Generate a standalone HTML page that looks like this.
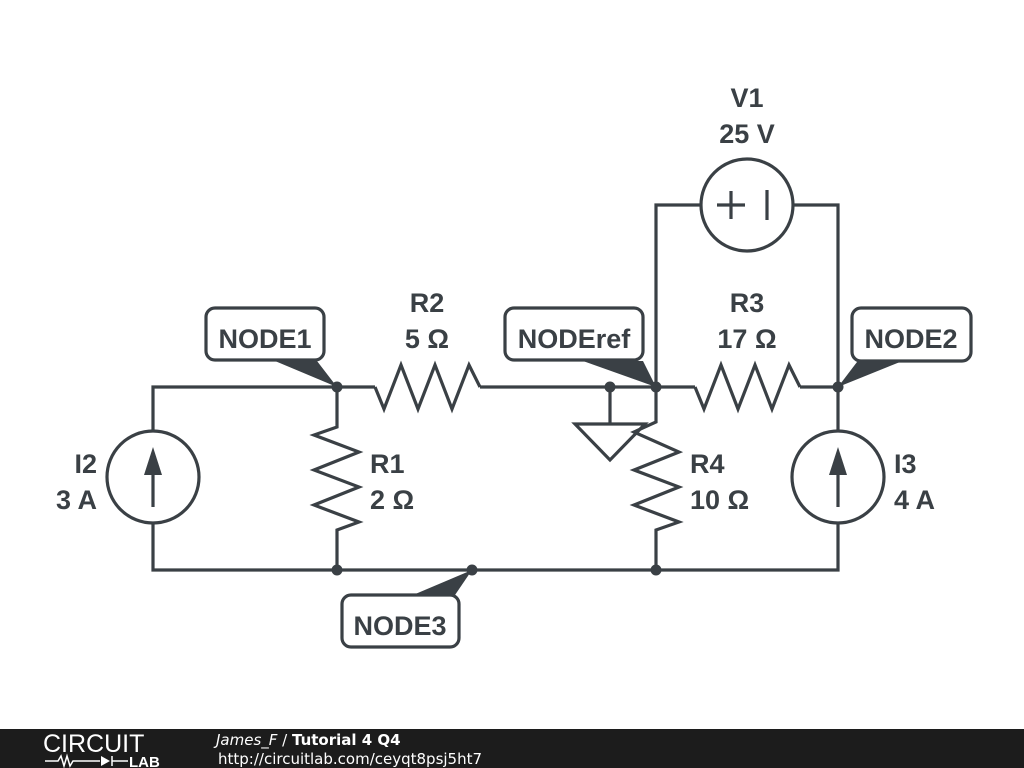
<!DOCTYPE html>
<html><head><meta charset="utf-8"><style>
html,body{margin:0;padding:0;background:#fff;width:1024px;height:768px;overflow:hidden}
svg{display:block}
text{font-family:"Liberation Sans",Arial,sans-serif;font-weight:bold;fill:#3a4045;font-size:27px}
.ft{font-family:"DejaVu Sans",sans-serif}
</style></head><body>
<svg width="1024" height="768" viewBox="0 0 1024 768">
<g stroke="#3a4045" stroke-width="3.2" fill="none" stroke-linejoin="miter">
<polyline points="153,431 153,387 375,387"/>
<polyline points="153,523 153,570 838,570 838,523"/>
<line x1="480" y1="387" x2="695" y2="387"/>
<line x1="800" y1="387" x2="838" y2="387"/>
<line x1="838" y1="387" x2="838" y2="431"/>
<polyline points="375,387 384,409 401,365 418,409 435,365 452,409 469,365 480,387"/>
<polyline points="695,387 704,409 721,365 738,409 755,365 772,409 789,365 800,387"/>
<polyline points="337,387 337,427 314,435 359,452 314,470 359,487 314,505 359,522 337,530 337,570"/>
<polyline points="656,387 656,422 634,432 679,452 634,470 679,487 634,505 679,522 656,530 656,570"/>
<polyline points="656,387 656,205 701,205"/>
<polyline points="793,205 838,205 838,387"/>
<circle cx="747" cy="205" r="46"/>
<line x1="717" y1="205" x2="745" y2="205"/>
<line x1="731" y1="191" x2="731" y2="219"/>
<line x1="767" y1="190" x2="767" y2="220"/>
<circle cx="153" cy="477" r="46"/>
<line x1="153" y1="507" x2="153" y2="470"/>
<circle cx="838" cy="477" r="46"/>
<line x1="838" y1="507" x2="838" y2="470"/>
<line x1="610" y1="387" x2="610" y2="424"/>
<polygon points="575,424 645,424 610,460"/>
<rect x="206" y="308" width="118" height="52" rx="9" fill="#fff"/>
<rect x="505" y="308" width="138" height="52" rx="9" fill="#fff"/>
<rect x="852" y="308" width="119" height="53" rx="9" fill="#fff"/>
<rect x="342" y="595" width="117" height="52" rx="9" fill="#fff"/>
</g>
<g fill="#3a4045">
<polygon points="153,447 144,475 162,475"/>
<polygon points="838,447 829,475 847,475"/>
<polygon points="275,361 317,361 337,387"/>
<polygon points="583,361 643,361 656,387"/>
<polygon points="857,362 900,362 838,387"/>
<polygon points="413,595 455,595 472,570"/>
<circle cx="337" cy="387" r="5.5"/>
<circle cx="610" cy="387" r="5.5"/>
<circle cx="656" cy="387" r="5.5"/>
<circle cx="838" cy="387" r="5.5"/>
<circle cx="337" cy="570" r="5.5"/>
<circle cx="472" cy="570" r="5.5"/>
<circle cx="656" cy="570" r="5.5"/>
</g>
<text x="265" y="348" text-anchor="middle">NODE1</text>
<text x="574" y="348" text-anchor="middle">NODEref</text>
<text x="911" y="348" text-anchor="middle">NODE2</text>
<text x="400" y="635" text-anchor="middle">NODE3</text>
<text x="427" y="312" text-anchor="middle">R2</text>
<text x="427" y="348" text-anchor="middle">5 Ω</text>
<text x="747" y="312" text-anchor="middle">R3</text>
<text x="747" y="348" text-anchor="middle">17 Ω</text>
<text x="747" y="107" text-anchor="middle">V1</text>
<text x="747" y="143" text-anchor="middle">25 V</text>
<text x="370" y="473">R1</text>
<text x="370" y="509">2 Ω</text>
<text x="690" y="473">R4</text>
<text x="690" y="509">10 Ω</text>
<text x="97" y="473" text-anchor="end">I2</text>
<text x="97" y="509" text-anchor="end">3 A</text>
<text x="894" y="473">I3</text>
<text x="894" y="509">4 A</text>
<rect x="0" y="729" width="1024" height="39" fill="#1c1c1c"/>
<text x="43" y="752" style="font-weight:normal;font-size:25px;fill:#fff;letter-spacing:0px">CIRCUIT</text>
<g stroke="#fff" stroke-width="1.5" fill="none">
<polyline points="45,761 58,761 61,756 64,766 67,756 70,766 73,761 100,761"/>
<line x1="112" y1="756" x2="112" y2="766"/>
<line x1="112" y1="761" x2="128" y2="761"/>
</g>
<polygon points="101,756 101,766 110,761" fill="#fff"/>
<text x="129" y="767" style="font-size:15px;fill:#fff">LAB</text>
<text class="ft" x="216" y="745" style="font-size:15px;fill:#fff"><tspan style="font-weight:normal;font-style:italic">James_F</tspan><tspan style="font-weight:normal"> / </tspan>Tutorial 4 Q4</text>
<text class="ft" x="218" y="764" style="font-size:15px;fill:#fff;font-weight:normal">http://circuitlab.com/ceyqt8psj5ht7</text>
</svg>
</body></html>
